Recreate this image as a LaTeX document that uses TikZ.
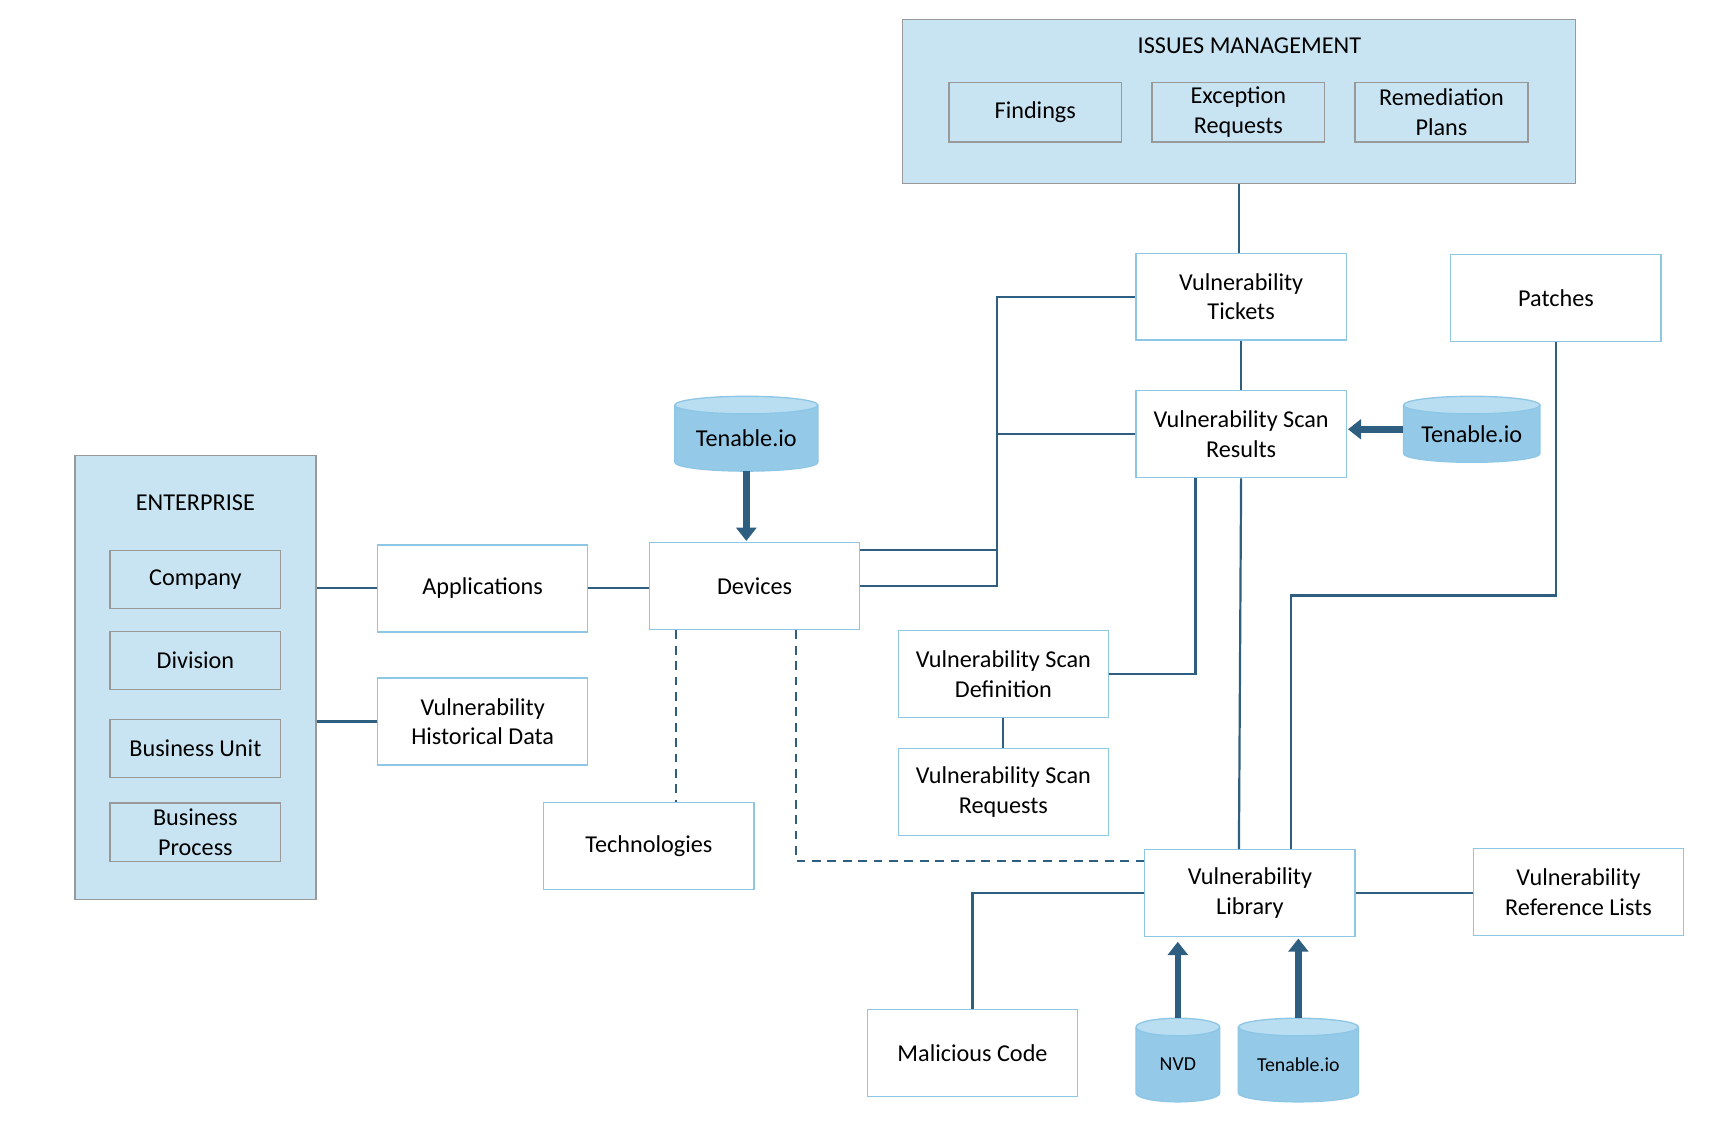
\documentclass[tikz,border=0pt]{standalone}
\usepackage{fontspec}
\setmainfont{Carlito}
\usetikzlibrary{arrows.meta}
\definecolor{bline}{HTML}{8EC6E6}
\definecolor{cline}{HTML}{2F5F80}
\definecolor{lfill}{HTML}{C8E4F2}
\definecolor{cylbody}{HTML}{94C9E8}
\definecolor{cyltop}{HTML}{B9DDF1}
\tikzset{
 box/.style={draw=bline,line width=0.6pt,fill=white,minimum width=95.5pt,minimum height=39.5pt,align=center,inner sep=1pt,font=\fontsize{11}{13.5}\selectfont},
 grp/.style={draw=gray!80,line width=0.6pt,fill=lfill},
 ibox/.style={draw=gray!80,line width=0.6pt,fill=lfill,align=center,inner sep=1pt,font=\fontsize{11}{13.5}\selectfont},
 ttl/.style={font=\fontsize{11}{13.5}\selectfont},
 ln/.style={draw=cline,line width=1pt},
 dln/.style={draw=cline,line width=1pt,dash pattern=on 4pt off 3pt},
 arr/.style={draw=cline,line width=3pt,-{Triangle[width=9pt,length=6pt]}},
}
\newcommand\mycyl[7]{%
 \pgfmathsetmacro\rx{(#3-#2)/4}%
 \pgfmathsetmacro\cx{(#2+#3)/2}%
 \pgfmathsetmacro\cy{(#4+#5)/2+4}%
 \fill[cylbody] (#2,-#4-8) -- (#2,-#5+8) arc[start angle=180,end angle=360,x radius=\rx pt,y radius=4pt] -- (#3,-#4-8) -- cycle;
 \fill[cyltop] (\cx,-#4-8) ellipse[x radius=\rx pt,y radius=4pt];
 \draw[bline,line width=0.6pt] (#2,-#4-8) -- (#2,-#5+8) arc[start angle=180,end angle=360,x radius=\rx pt,y radius=4pt] -- (#3,-#4-8);
 \draw[bline,line width=0.6pt] (\cx,-#4-8) ellipse[x radius=\rx pt,y radius=4pt];
 \node[font=\fontsize{#7}{13}\selectfont] (#1) at (\cx,-\cy) {#6};
 \coordinate (#1-b) at (\cx,-#5);
 \coordinate (#1-t) at (\cx,-#4);
 \coordinate (#1-l) at (#2,-\cy+4);
}
\begin{document}
\begin{tikzpicture}[x=0.5pt,y=0.5pt]
\useasboundingbox (0,0) rectangle (1568,-1027);
% Issues management
\node[grp,minimum width=305.5pt,minimum height=74.5pt] (issues) at (1125.5,-92.5) {};
\node[ttl] (issuest) at (1135,-42) {ISSUES MANAGEMENT};
\node[ibox,minimum width=78.5pt,minimum height=27pt] (find) at (940.5,-102) {Findings};
\node[ibox,minimum width=78.5pt,minimum height=27pt] (exc) at (1125,-102) {Exception\\Requests};
\node[ibox,minimum width=78.5pt,minimum height=27pt] (rem) at (1309.5,-102) {Remediation\\Plans};
% Enterprise
\node[grp,minimum width=109.5pt,minimum height=201.5pt] (ent) at (177.5,-615.5) {};
\node[ttl] (entt) at (177.5,-457) {ENTERPRISE};
\node[ibox,minimum width=77.5pt,minimum height=26.5pt] (comp) at (177.5,-526.5) {Company};
\node[ibox,minimum width=77.5pt,minimum height=26.5pt] (div) at (177.5,-600) {Division};
\node[ibox,minimum width=77.5pt,minimum height=26.5pt] (bu) at (177.5,-680) {Business Unit};
\node[ibox,minimum width=77.5pt,minimum height=26.5pt] (bp) at (177.5,-756) {Business\\Process};
% boxes
\node[box] (tickets) at (1127.5,-269.5) {Vulnerability\\Tickets};
\node[box] (patches) at (1413.5,-270.5) {Patches};
\node[box] (results) at (1127.5,-394.5) {Vulnerability Scan\\Results};
\node[box] (apps) at (438.5,-534.5) {Applications};
\node[box] (hist) at (438.5,-655.5) {Vulnerability\\Historical Data};
\node[box] (devices) at (685.5,-532.5) {Devices};
\node[box] (vsdef) at (911.5,-612.5) {Vulnerability Scan\\Definition};
\node[box] (vsreq) at (911.5,-719.5) {Vulnerability Scan\\Requests};
\node[box] (tech) at (589.5,-768.5) {Technologies};
\node[box] (lib) at (1135.5,-811.5) {Vulnerability\\Library};
\node[box] (ref) at (1434,-810.5) {Vulnerability\\Reference Lists};
\node[box] (mal) at (883.5,-956.5) {Malicious Code};
% cylinders
\mycyl{tentop}{613}{743}{360}{428}{Tenable.io}{11}
\mycyl{tenr}{1275}{1399}{360}{420}{Tenable.io}{11}
\mycyl{nvd}{1032}{1108}{925}{1001}{NVD}{9}
\mycyl{tenb}{1125}{1234}{925}{1001}{Tenable.io}{9}
% connectors
\draw[ln] (issues.south) -- (issues.south |- tickets.north);
\draw[ln] (tickets.south) -- (results.north);
\draw[ln] (tickets.west) -| (906,-532.5) -- (devices.east);
\draw[ln] (results.west) -- (906,-394.5);
\draw[ln] ([yshift=16.25pt]devices.east) -- (906,-500);
\draw[ln] (ent.east |- apps.west) -- (apps.west);
\draw[ln] (ent.east |- hist.west) -- (hist.west);
\draw[ln] (apps.east) -- (apps.east -| devices.west);
\draw[ln] ([xshift=-20.75pt]results.south) |- (vsdef.east);
\draw[ln] (vsdef.south) -- (vsreq.north);
\draw[ln] (results.south) -- ([xshift=-5pt]lib.north);
\draw[ln] (patches.south) -- (1413.5,-541) -- (1173,-541) -- ([xshift=18.75pt]lib.north);
\draw[dln] ([xshift=-35.75pt]devices.south) -- ([xshift=12.25pt]tech.north);
\draw[dln] ([xshift=18.75pt]devices.south) |- ([yshift=14.75pt]lib.west);
\draw[ln] (lib.west) -| (mal.north);
\draw[ln] (lib.east) -- (lib.east -| ref.west);
% arrows
\draw[arr] (tentop-b) -- ([yshift=0.5pt]tentop-b |- devices.north);
\draw[arr] (tenr-l) -- ([xshift=0.5pt]results.east |- tenr-l);
\draw[arr] (nvd-t) -- ([yshift=-2pt]nvd-t |- lib.south);
\draw[arr] (tenb-t) -- ([yshift=-0.5pt]tenb-t |- lib.south);
\end{tikzpicture}
\end{document}
